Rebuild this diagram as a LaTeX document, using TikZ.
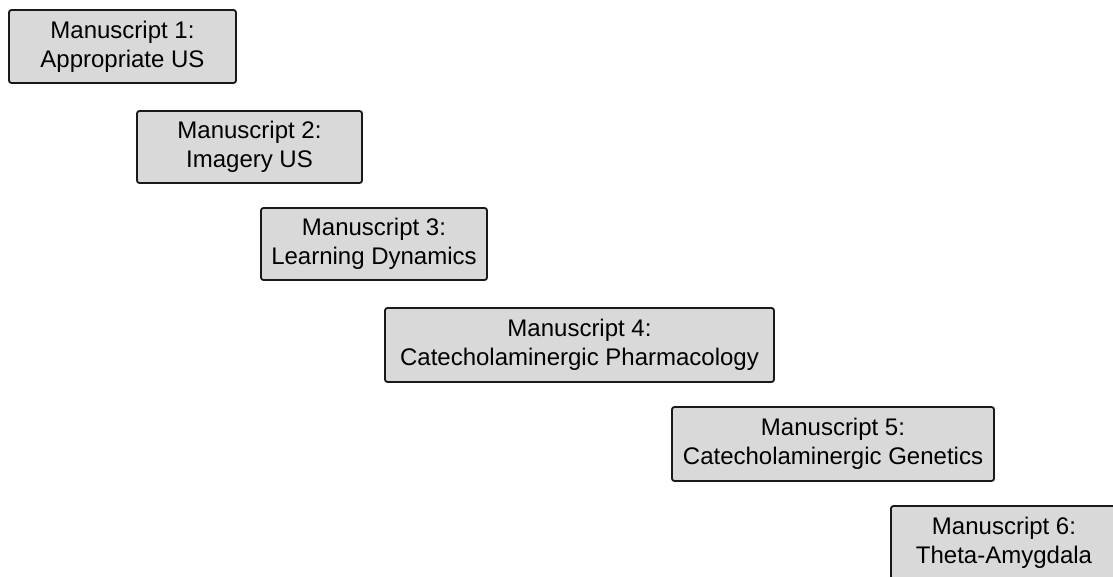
\documentclass[tikz,border=0pt]{standalone}
\usepackage{fontspec}
\setmainfont{Liberation Sans}
\begin{document}
\begin{tikzpicture}[x=1pt,y=-1pt,
  msbox/.style={draw=black!90, line width=1.8pt, fill=black!15, rounded corners=2.5pt,
    align=center, inner sep=0pt, font=\fontsize{24}{29}\selectfont},
  ]
  \useasboundingbox (0,0) rectangle (1113,577);
  \clip (0,0) rectangle (1113,577);
  \node[msbox, minimum width=227pt, minimum height=73pt] (m1) at (122.5,46.5)
    {Manuscript 1:\\Appropriate US};
  \node[msbox, minimum width=225pt, minimum height=72pt] (m2) at (249.5,147)
    {Manuscript 2:\\Imagery US};
  \node[msbox, minimum width=226pt, minimum height=72pt] (m3) at (374,244)
    {Manuscript 3:\\Learning Dynamics};
  \node[msbox, minimum width=389pt, minimum height=74pt] (m4) at (579.5,345)
    {Manuscript 4:\\Catecholaminergic Pharmacology};
  \node[msbox, minimum width=322pt, minimum height=74pt] (m5) at (833,444)
    {Manuscript 5:\\Catecholaminergic Genetics};
  \node[msbox, minimum width=226pt, minimum height=73pt] (m6) at (1004,542.5)
    {Manuscript 6:\\Theta-Amygdala};
\end{tikzpicture}
\end{document}
